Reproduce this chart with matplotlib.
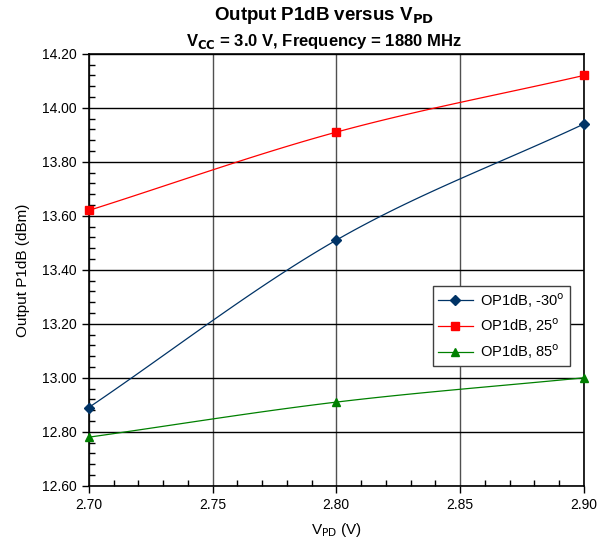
import numpy as np
import matplotlib
matplotlib.use('Agg')
import matplotlib.pyplot as plt
from matplotlib.ticker import MultipleLocator, FormatStrFormatter

plt.rcParams['font.family'] = ['Liberation Sans', 'DejaVu Sans']

vpd = [2.70, 2.80, 2.90]
op_m30 = [12.89, 13.51, 13.94]
op_25 = [13.62, 13.91, 14.12]
op_85 = [12.78, 12.91, 13.00]
labels = ['OP1dB, -30$^{\\mathrm{o}}$', 'OP1dB, 25$^{\\mathrm{o}}$', 'OP1dB, 85$^{\\mathrm{o}}$']


def smooth(x, y, n=30):
    # catmull-rom style smoothing for the connecting line (like excel smoothed lines)
    x = np.asarray(x, float)
    y = np.asarray(y, float)
    px = np.concatenate([[2 * x[0] - x[1]], x, [2 * x[-1] - x[-2]]])
    py = np.concatenate([[2 * y[0] - y[1]], y, [2 * y[-1] - y[-2]]])
    xs, ys = [], []
    for i in range(1, len(px) - 2):
        t = np.linspace(0, 1, n)
        for p, out in ((px, xs), (py, ys)):
            p0, p1, p2, p3 = p[i - 1], p[i], p[i + 1], p[i + 2]
            out.extend(0.5 * ((2 * p1) + (-p0 + p2) * t + (2 * p0 - 5 * p1 + 4 * p2 - p3) * t ** 2
                              + (-p0 + 3 * p1 - 3 * p2 + p3) * t ** 3))
    return xs, ys


fig = plt.figure(figsize=(6, 5.44), dpi=100)
ax = fig.add_axes([0.148, 0.107, 0.825, 0.794])

series = [(op_m30, '#003366', 'D', 5), (op_25, '#ff0000', 's', 6), (op_85, '#008000', '^', 6)]
for (y, c, m, ms), lab in zip(series, labels):
    sx, sy = smooth(vpd, y)
    ax.plot(sx, sy, color=c, lw=0.9, zorder=3)
    ax.plot(vpd, y, color=c, marker=m, ms=ms, lw=0, zorder=4, clip_on=False)
    ax.plot([], [], color=c, marker=m, ms=ms, lw=0.9, label=lab)

ax.set_xlim(2.70, 2.90)
ax.set_ylim(12.60, 14.20)
ax.xaxis.set_major_locator(MultipleLocator(0.05))
ax.xaxis.set_minor_locator(MultipleLocator(0.01))
ax.yaxis.set_major_locator(MultipleLocator(0.20))
ax.yaxis.set_minor_locator(MultipleLocator(0.04))
ax.xaxis.set_major_formatter(FormatStrFormatter('%.2f'))
ax.yaxis.set_major_formatter(FormatStrFormatter('%.2f'))
ax.tick_params(which='major', direction='out', length=5, width=1, labelsize=10, pad=4)
ax.tick_params(which='minor', direction='in', length=4, width=1)
ax.grid(True, which='major', axis='y', color='black', lw=1)
ax.grid(True, which='major', axis='x', color='#505050', lw=1)
ax.set_axisbelow(True)
for s in ax.spines.values():
    s.set_linewidth(1.2)

ax.set_xlabel('V$_{\\mathrm{PD}}$ (V)', fontsize=11, labelpad=6)
ax.set_ylabel('Output P1dB (dBm)', fontsize=11, labelpad=8)
fig.text(0.54, 0.972, 'Output P1dB versus V$_{\\mathbf{PD}}$', ha='center', va='center',
         fontsize=13.5, fontweight='bold')
fig.text(0.54, 0.923, 'V$_{\\mathbf{CC}}$ = 3.0 V, Frequency = 1880 MHz', ha='center', va='center',
         fontsize=12, fontweight='bold')

leg = ax.legend(loc='upper left', bbox_to_anchor=(0.695, 0.463), fontsize=10.5, frameon=True,
                fancybox=False, edgecolor='#404040', framealpha=1, handlelength=2.4,
                borderpad=0.35, labelspacing=0.5, handletextpad=0.5, borderaxespad=0)
leg.get_frame().set_linewidth(1)

fig.savefig('out.png', dpi=100)
